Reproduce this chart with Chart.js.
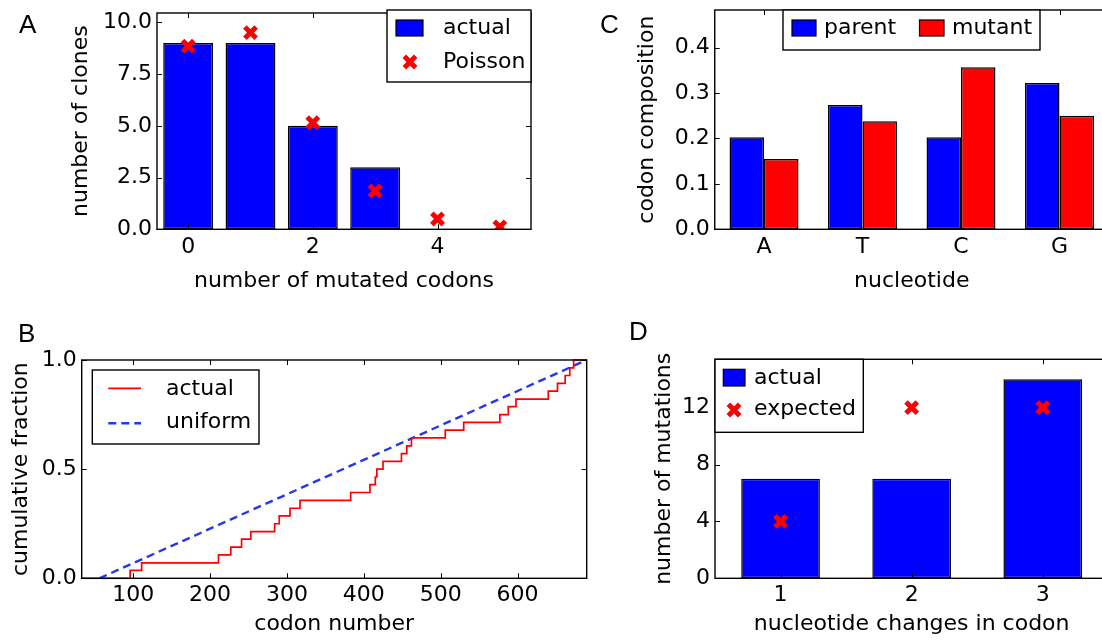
<!DOCTYPE html>
<html lang="en">
<head>
<meta charset="UTF-8" />
<title>Codon mutation statistics</title>
<script src="https://cdn.jsdelivr.net/npm/chart.js"></script>
<style>
  html, body { margin: 0; padding: 0; background: #fff; width: 1102px; height: 643px; overflow: hidden; }
  .panel { position: absolute; }
  .letter {
    position: absolute;
    font-family: "Liberation Sans", Arial, sans-serif;
    font-size: 26px;
    line-height: 26px;
    color: #000;
  }
</style>
</head>
<body>
  <canvas id="chartA" class="panel" width="560" height="310" style="left:0;top:0"></canvas>
  <canvas id="chartB" class="panel" width="600" height="333" style="left:0;top:310px"></canvas>
  <canvas id="chartC" class="panel" width="600" height="310" style="left:560px;top:0"></canvas>
  <canvas id="chartD" class="panel" width="600" height="333" style="left:560px;top:310px"></canvas>

  <div class="letter" style="left:19px;top:11px">A</div>
  <div class="letter" style="left:18px;top:320px">B</div>
  <div class="letter" style="left:600px;top:11px">C</div>
  <div class="letter" style="left:629px;top:318px">D</div>

<script>
// ---- data ----
// A: clones by number of mutated codons
const mutatedCodons = [0, 1, 2, 3, 4, 5];
const clonesActual = [9, 9, 5, 3, 0, 0];
const clonesPoisson = [8.85, 9.5, 5.15, 1.85, 0.5, 0.12];

// B: cumulative fraction of mutations along the gene
const codonSteps = [33, 96, 111, 211, 227, 241, 253, 284, 290, 304, 317, 383, 408, 415, 417, 425,
                    449, 456, 462, 506, 530, 577, 588, 598, 640, 652, 662, 668, 673, 690];
const cumFraction = [0, 0.036, 0.071, 0.107, 0.143, 0.179, 0.214, 0.25, 0.286, 0.321, 0.357, 0.393,
                     0.429, 0.464, 0.5, 0.536, 0.571, 0.607, 0.643, 0.679, 0.714, 0.75, 0.786, 0.821,
                     0.857, 0.893, 0.929, 0.964, 1.0, 1.0];
const uniformCodon = [56, 690];
const uniformFraction = [0, 1];

// C: codon composition
const nucleotides = ['A', 'T', 'C', 'G'];
const parentComp = [0.203, 0.274, 0.203, 0.322];
const mutantComp = [0.155, 0.238, 0.357, 0.25];

// D: nucleotide changes per mutated codon
const ntChanges = [1, 2, 3];
const mutActual = [7, 7, 14];
const mutExpected = [4, 12, 12];

// ---- styling ----
const BLUE = '#0000ff';
const RED = '#ff0000';
const FONT = '"DejaVu Sans", "Bitstream Vera Sans", sans-serif';
const HALF_LINE = 22 * 1.2 / 2;

Chart.defaults.font.family = FONT;
Chart.defaults.font.size = 22;
Chart.defaults.color = '#000';

// matplotlib-like frame with inward ticks on all four sides
const mplFrame = {
  id: 'mplFrame',
  afterDatasetsDraw(chart) {
    const {ctx, chartArea: a, scales: {x, y}} = chart;
    ctx.save();
    ctx.strokeStyle = '#000';
    ctx.lineWidth = 1;
    ctx.beginPath();
    x.ticks.forEach(t => {
      const px = Math.round(x.getPixelForValue(t.value)) + 0.5;
      ctx.moveTo(px, a.bottom); ctx.lineTo(px, a.bottom - 5);
      ctx.moveTo(px, a.top); ctx.lineTo(px, a.top + 5);
    });
    y.ticks.forEach(t => {
      const py = Math.round(y.getPixelForValue(t.value)) + 0.5;
      ctx.moveTo(a.left, py); ctx.lineTo(a.left + 5, py);
      ctx.moveTo(a.right, py); ctx.lineTo(a.right - 5, py);
    });
    ctx.stroke();
    ctx.lineWidth = 1.4;
    ctx.strokeRect(a.left, a.top, a.right - a.left, a.bottom - a.top);
    ctx.restore();
  }
};

function crossMark(ctx, x, y, r, w, color) {
  const d = r * Math.SQRT1_2;
  ctx.strokeStyle = color;
  ctx.lineWidth = w;
  ctx.beginPath();
  ctx.moveTo(x - d, y - d); ctx.lineTo(x + d, y + d);
  ctx.moveTo(x + d, y - d); ctx.lineTo(x - d, y + d);
  ctx.stroke();
}

// framed legend box placed like matplotlib's
const boxLegend = {
  id: 'boxLegend',
  afterDraw(chart, args, opts) {
    if (!opts.box) return;
    const ctx = chart.ctx;
    const [ox, oy] = opts.origin;
    const ds = chart.data.datasets;
    ctx.save();
    ctx.translate(-ox, -oy);
    const [x0, y0, x1, y1] = opts.box;
    ctx.fillStyle = '#fff';
    ctx.fillRect(x0, y0, x1 - x0, y1 - y0);
    ctx.strokeStyle = '#000';
    ctx.lineWidth = 1.4;
    ctx.strokeRect(x0, y0, x1 - x0, y1 - y0);
    opts.rows.forEach(row => {
      const d = ds[row.ds];
      if (row.mark === 'patch') {
        const [a, b, c, e] = row.rect;
        ctx.fillStyle = d.backgroundColor;
        ctx.fillRect(a, b, c - a, e - b);
        ctx.strokeStyle = '#000';
        ctx.lineWidth = 1.2;
        ctx.strokeRect(a, b, c - a, e - b);
      } else if (row.mark === 'cross') {
        crossMark(ctx, row.at[0], row.at[1], d.pointRadius, d.pointBorderWidth, d.pointBorderColor);
      } else if (row.mark === 'line') {
        ctx.strokeStyle = d.borderColor;
        ctx.lineWidth = d.borderWidth;
        ctx.setLineDash(d.borderDash || []);
        ctx.beginPath();
        ctx.moveTo(row.line[0], row.line[2]);
        ctx.lineTo(row.line[1], row.line[2]);
        ctx.stroke();
        ctx.setLineDash([]);
      }
      ctx.fillStyle = '#000';
      ctx.font = '22px ' + FONT;
      ctx.textBaseline = 'middle';
      ctx.textAlign = 'left';
      ctx.fillText(d.label, row.text[0], row.text[1]);
    });
    ctx.restore();
  }
};

Chart.register(mplFrame, boxLegend);

// panel geometry in page pixels: canvas box, plot area, title centre lines
function layoutFor(g) {
  const [cx, cy, cw, ch] = g.canvas;
  const [l, t, r, b] = g.area;
  const yLeft = g.yTitleMid - HALF_LINE;
  const xBottom = g.xTitleMid + HALF_LINE;
  return {
    padding: {left: yLeft - cx, top: t - cy, right: cx + cw - r, bottom: cy + ch - xBottom},
    yWidth: l - yLeft,
    xHeight: xBottom - b
  };
}

function axis({min, max, ticks, fmt, title, pad, width, height}) {
  return {
    type: 'linear',
    min, max,
    offset: false,
    grid: {display: false, drawTicks: false},
    border: {display: false},
    ticks: {autoSkip: false, maxRotation: 0, minRotation: 0, padding: pad, callback: fmt},
    title: {display: true, text: title, padding: 0},
    afterBuildTicks: s => { s.ticks = ticks.map(v => ({value: v})); },
    afterFit: s => {
      if (width != null) s.width = width;
      if (height != null) s.height = height;
      s.paddingLeft = s.paddingRight = s.paddingTop = s.paddingBottom = 0;
    }
  };
}

function baseOptions(lay, scales, legend) {
  return {
    responsive: false,
    animation: false,
    devicePixelRatio: 1,
    events: [],
    layout: {padding: lay.padding},
    plugins: {legend: {display: false}, tooltip: {enabled: false}, boxLegend: legend},
    scales
  };
}

const pts = (xs, ys) => xs.map((x, i) => ({x, y: ys[i]}));
const barStyle = {borderColor: '#000', borderWidth: 1.5, borderSkipped: false, barPercentage: 1};
const crossStyle = {type: 'scatter', pointStyle: 'crossRot', pointRadius: 8, pointBorderWidth: 5,
                    pointBorderColor: RED, pointBackgroundColor: RED, clip: 0, order: 0};

// ---- A ----
const geoA = {canvas: [0, 0, 560, 310], area: [157, 10, 531, 229.3], yTitleMid: 81.4, xTitleMid: 281.4};
const layA = layoutFor(geoA);
new Chart(document.getElementById('chartA'), {
  type: 'bar',
  data: {
    datasets: [
      {...crossStyle, label: 'Poisson', data: pts(mutatedCodons, clonesPoisson)},
      {...barStyle, label: 'actual', data: pts(mutatedCodons, clonesActual), backgroundColor: BLUE,
       categoryPercentage: 0.8, order: 1}
    ]
  },
  options: baseOptions(layA, {
    x: axis({min: -0.5, max: 5.5, ticks: [0, 2, 4], fmt: v => String(v), title: 'number of mutated codons', pad: 5, height: layA.xHeight}),
    y: axis({min: 0, max: 10.45, ticks: [0, 2.5, 5, 7.5, 10], fmt: v => v.toFixed(1), title: 'number of clones', pad: 5, width: layA.yWidth})
  }, {
    origin: [0, 0], box: [387, 10, 531, 82],
    rows: [
      {ds: 1, mark: 'patch', rect: [396, 20, 423, 36], text: [443, 28.4]},
      {ds: 0, mark: 'cross', at: [410, 62], text: [443, 62.4]}
    ]
  })
});

// ---- B ----
const geoB = {canvas: [0, 310, 600, 333], area: [81.7, 360, 586.7, 578.3], yTitleMid: 21.4, xTitleMid: 624.4};
const layB = layoutFor(geoB);
new Chart(document.getElementById('chartB'), {
  type: 'scatter',
  data: {
    datasets: [
      {label: 'actual', data: pts(codonSteps, cumFraction), showLine: true, stepped: 'before',
       borderColor: RED, backgroundColor: RED, borderWidth: 1.7, pointRadius: 0, clip: 1},
      {label: 'uniform', data: pts(uniformCodon, uniformFraction), showLine: true,
       borderColor: 'rgb(35,55,240)', backgroundColor: 'rgb(35,55,240)', borderWidth: 2.4, borderDash: [8, 5], pointRadius: 0, clip: 1}
    ]
  },
  options: baseOptions(layB, {
    x: axis({min: 33, max: 690, ticks: [100, 200, 300, 400, 500, 600], fmt: v => String(v), title: 'codon number', pad: 4, height: layB.xHeight}),
    y: axis({min: 0, max: 1, ticks: [0, 0.5, 1], fmt: v => v.toFixed(1), title: 'cumulative fraction', pad: 5, width: layB.yWidth})
  }, {
    origin: [0, 310], box: [92.3, 370, 259, 444],
    rows: [
      {ds: 0, mark: 'line', line: [108.3, 141, 388.3], text: [166, 389]},
      {ds: 1, mark: 'line', line: [108.3, 141, 423.3], text: [166, 422.4]}
    ]
  })
});

// ---- C ----
const geoC = {canvas: [560, 0, 600, 310], area: [714.75, 10, 1108.75, 229.3], yTitleMid: 647.4, xTitleMid: 281.4};
const layC = layoutFor(geoC);
const nucIndex = nucleotides.map((n, i) => i);
new Chart(document.getElementById('chartC'), {
  type: 'bar',
  data: {
    datasets: [
      {...barStyle, label: 'parent', data: pts(nucIndex, parentComp), backgroundColor: BLUE, categoryPercentage: 0.7},
      {...barStyle, label: 'mutant', data: pts(nucIndex, mutantComp), backgroundColor: RED, categoryPercentage: 0.7}
    ]
  },
  options: baseOptions(layC, {
    x: axis({min: -0.5, max: 3.5, ticks: nucIndex, fmt: v => nucleotides[v], title: 'nucleotide', pad: 5, height: layC.xHeight}),
    y: axis({min: 0, max: 0.483, ticks: [0, 0.1, 0.2, 0.3, 0.4], fmt: v => v.toFixed(1), title: 'codon composition', pad: 5, width: layC.yWidth})
  }, {
    origin: [560, 0], box: [783, 10, 1040, 50],
    rows: [
      {ds: 0, mark: 'patch', rect: [792, 20, 816, 36], text: [824, 28]},
      {ds: 1, mark: 'patch', rect: [919.5, 20, 944, 36], text: [952, 28]}
    ]
  })
});

// ---- D ----
const geoD = {canvas: [560, 310, 600, 333], area: [715, 359.3, 1108.3, 578.3], yTitleMid: 664.4, xTitleMid: 624.4};
const layD = layoutFor(geoD);
new Chart(document.getElementById('chartD'), {
  type: 'bar',
  data: {
    datasets: [
      {...crossStyle, label: 'expected', data: pts(ntChanges, mutExpected)},
      {...barStyle, label: 'actual', data: pts(ntChanges, mutActual), backgroundColor: BLUE,
       categoryPercentage: 0.6, order: 1}
    ]
  },
  options: baseOptions(layD, {
    x: axis({min: 0.5, max: 3.5, ticks: ntChanges, fmt: v => String(v), title: 'nucleotide changes in codon', pad: 4, height: layD.xHeight}),
    y: axis({min: 0, max: 15.4, ticks: [0, 4, 8, 12], fmt: v => String(v), title: 'number of mutations', pad: 5, width: layD.yWidth})
  }, {
    origin: [560, 310], box: [715, 359.3, 863.3, 432.3],
    rows: [
      {ds: 1, mark: 'patch', rect: [723.3, 369.3, 745, 386], text: [754, 378.4]},
      {ds: 0, mark: 'cross', at: [734, 410], text: [754, 409]}
    ]
  })
});
</script>
</body>
</html>
